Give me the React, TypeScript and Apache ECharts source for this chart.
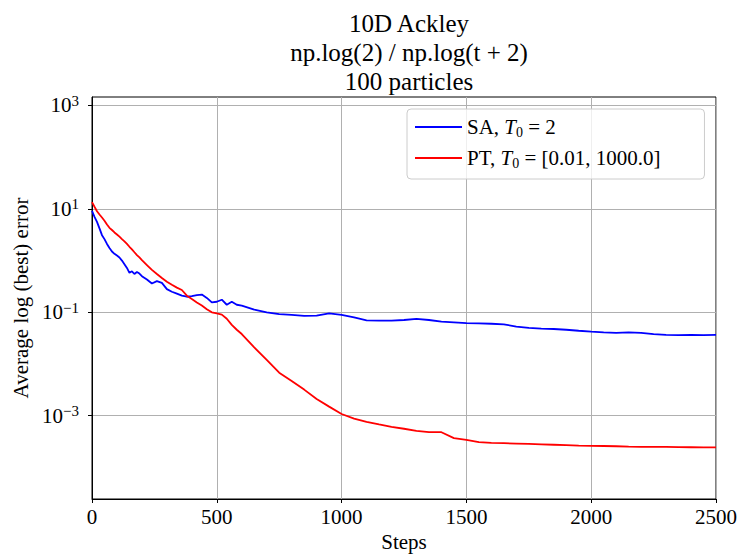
import React, { useEffect, useRef } from "react";
import * as echarts from "echarts";

const FONT = '"Liberation Serif", "Times New Roman", serif';

const TITLE_LINES = ["10D Ackley", "np.log(2) / np.log(t + 2)", "100 particles"];
const X_LABEL = "Steps";
const Y_LABEL = "Average log (best) error";
const X_TICKS = [0, 500, 1000, 1500, 2000, 2500];
const Y_TICKS = [1e-3, 1e-1, 1e1, 1e3];

const steps = [
  0, 10, 20, 30, 40, 50, 60, 70, 80, 90, 100, 110, 120, 130, 140, 150, 160, 170, 180, 190, 200,
  220, 240, 260, 280, 300, 320, 340, 360, 380, 400, 420, 440, 460, 480, 500, 520, 540, 560, 580, 600,
  650, 700, 750, 800, 850, 900, 950, 1000, 1050, 1100, 1150, 1200, 1250, 1300, 1350, 1400, 1450,
  1500, 1550, 1600, 1650, 1700, 1750, 1800, 1850, 1900, 1950, 2000, 2050, 2100, 2150, 2200, 2250,
  2300, 2350, 2400, 2450, 2500,
];

const saValues = [
  9.2, 7.0, 5.6, 4.2, 3.1, 2.6, 2.1, 1.75, 1.5, 1.35, 1.25, 1.15, 1.0, 0.85, 0.72, 0.58, 0.62, 0.55, 0.6, 0.56, 0.5,
  0.43, 0.36, 0.4, 0.37, 0.28, 0.25, 0.23, 0.21, 0.2, 0.205, 0.215, 0.22, 0.19, 0.155, 0.16, 0.175, 0.14, 0.16, 0.14, 0.135,
  0.113, 0.1, 0.092, 0.089, 0.085, 0.086, 0.095, 0.089, 0.08, 0.07, 0.069, 0.069, 0.071, 0.0745, 0.071, 0.066, 0.064,
  0.0615, 0.061, 0.06, 0.0585, 0.053, 0.05, 0.0485, 0.0475, 0.046, 0.044, 0.0423, 0.041, 0.04, 0.041, 0.04, 0.038,
  0.0365, 0.0363, 0.0365, 0.0363, 0.0365,
];

const ptValues = [
  13.5, 11.0, 9.0, 7.8, 6.8, 5.9, 5.0, 4.3, 3.9, 3.5, 3.2, 2.9, 2.6, 2.35, 2.1, 1.85, 1.65, 1.45, 1.28, 1.15, 1.02,
  0.82, 0.66, 0.55, 0.46, 0.39, 0.34, 0.3, 0.27, 0.21, 0.18, 0.155, 0.135, 0.115, 0.1, 0.095, 0.09, 0.075, 0.057, 0.046, 0.038,
  0.021, 0.012, 0.0068, 0.0047, 0.0032, 0.0021, 0.0015, 0.00108, 0.00088, 0.00076, 0.00068, 0.00061, 0.00056, 0.00051, 0.00048, 0.00048, 0.00037,
  0.00034, 0.00031, 0.0003, 0.000295, 0.00029, 0.000285, 0.00028, 0.000275, 0.00027, 0.000265, 0.000262, 0.00026, 0.000257, 0.000253, 0.00025, 0.00025,
  0.000249, 0.000247, 0.000246, 0.000245, 0.000245,
];

const SERIES_NAMES = ["SA, T0 = 2", "PT, T0 = [0.01, 1000.0]"];
const LEGEND_RICH = [
  "{n|SA, }{i|T}{s|0}{n| = 2}",
  "{n|PT, }{i|T}{s|0}{n| = [0.01, 1000.0]}",
];

export default function App() {
  const ref = useRef<HTMLDivElement>(null);

  useEffect(() => {
    if (!ref.current) return;
    const chart = echarts.init(ref.current, null, { renderer: "svg" });
    const gridColor = "#b0b0b0";
    chart.setOption({
      animation: false,
      backgroundColor: "#ffffff",
      title: {
        text: TITLE_LINES.join("\n"),
        left: 404,
        top: 4,
        textAlign: "center",
        textStyle: {
          fontFamily: FONT,
          fontSize: 25,
          fontWeight: "normal",
          color: "#000",
          lineHeight: 29,
        },
      },
      legend: {
        orient: "vertical",
        left: 407,
        top: 109,
        padding: [6, 44, 9, 8],
        itemGap: 7,
        itemWidth: 47,
        itemHeight: 2,
        itemTextGap: 15,
        icon: "rect",
        backgroundColor: "rgba(255,255,255,0.8)",
        borderColor: "#cccccc",
        borderWidth: 1,
        borderRadius: 4,
        data: SERIES_NAMES.map((n) => ({ name: n, icon: "rect" })),
        formatter: (name: string) => LEGEND_RICH[SERIES_NAMES.indexOf(name)],
        textStyle: {
          fontFamily: FONT,
          fontSize: 21,
          color: "#000",
          lineHeight: 24,
          rich: {
            n: { fontFamily: FONT, fontSize: 21, color: "#000", lineHeight: 24 },
            i: { fontFamily: FONT, fontSize: 21, fontStyle: "italic", color: "#000", lineHeight: 24 },
            s: { fontFamily: FONT, fontSize: 14, color: "#000", lineHeight: 12, verticalAlign: "bottom" },
          },
        },
      },
      grid: {
        left: 92,
        right: 21,
        top: 97,
        bottom: 58,
        show: true,
        borderColor: "#000",
        borderWidth: 1,
        backgroundColor: "transparent",
        outerBoundsMode: "none",
      },
      xAxis: {
        type: "value",
        min: 0,
        max: 2500,
        interval: 500,
        name: X_LABEL,
        nameLocation: "middle",
        nameGap: 32,
        nameTextStyle: { fontFamily: FONT, fontSize: 21, color: "#000" },
        axisLine: { show: true, lineStyle: { color: "#000", width: 1 } },
        axisTick: { show: true, length: 4, lineStyle: { color: "#000" }, customValues: X_TICKS },
        axisLabel: {
          fontFamily: FONT,
          fontSize: 21,
          color: "#000",
          margin: 7,
          customValues: X_TICKS,
          formatter: (v: number) => String(v),
        },
        splitLine: { show: true, lineStyle: { color: gridColor, width: 1 } },
      },
      yAxis: {
        type: "log",
        logBase: 10,
        min: Math.pow(10, -4.61),
        max: Math.pow(10, 3.163),
        name: Y_LABEL,
        nameLocation: "middle",
        nameGap: 60,
        nameTextStyle: { fontFamily: FONT, fontSize: 21, color: "#000" },
        axisLine: { show: true, lineStyle: { color: "#000", width: 1 } },
        axisTick: { show: true, length: 4, lineStyle: { color: "#000" }, customValues: Y_TICKS },
        minorTick: { show: false },
        axisLabel: {
          margin: 13,
          customValues: Y_TICKS,
          formatter: (v: number) => {
            const e = Math.round(Math.log10(v));
            const s = e < 0 ? "\u2212" + Math.abs(e) : String(e);
            return `{b|10}{e|${s}}`;
          },
          rich: {
            b: { fontFamily: FONT, fontSize: 21, color: "#000", lineHeight: 24 },
            e: { fontFamily: FONT, fontSize: 15, color: "#000", lineHeight: 14, verticalAlign: "top" },
          },
        },
        splitLine: { show: true, lineStyle: { color: gridColor, width: 1 } },
      },
      series: [
        {
          name: SERIES_NAMES[0],
          type: "line",
          showSymbol: false,
          symbol: "none",
          color: "#0000ff",
          lineStyle: { color: "#0000ff", width: 1.8 },
          data: steps.map((s, i) => [s, saValues[i]]),
          z: 3,
        },
        {
          name: SERIES_NAMES[1],
          type: "line",
          showSymbol: false,
          symbol: "none",
          color: "#ff0000",
          lineStyle: { color: "#ff0000", width: 1.8 },
          data: steps.map((s, i) => [s, ptValues[i]]),
          z: 4,
        },
      ],
    });
    return () => chart.dispose();
  }, []);

  return (
    <div
      ref={ref}
      style={{ position: "fixed", left: 0, top: 0, width: 737, height: 557, background: "#fff" }}
    />
  );
}
